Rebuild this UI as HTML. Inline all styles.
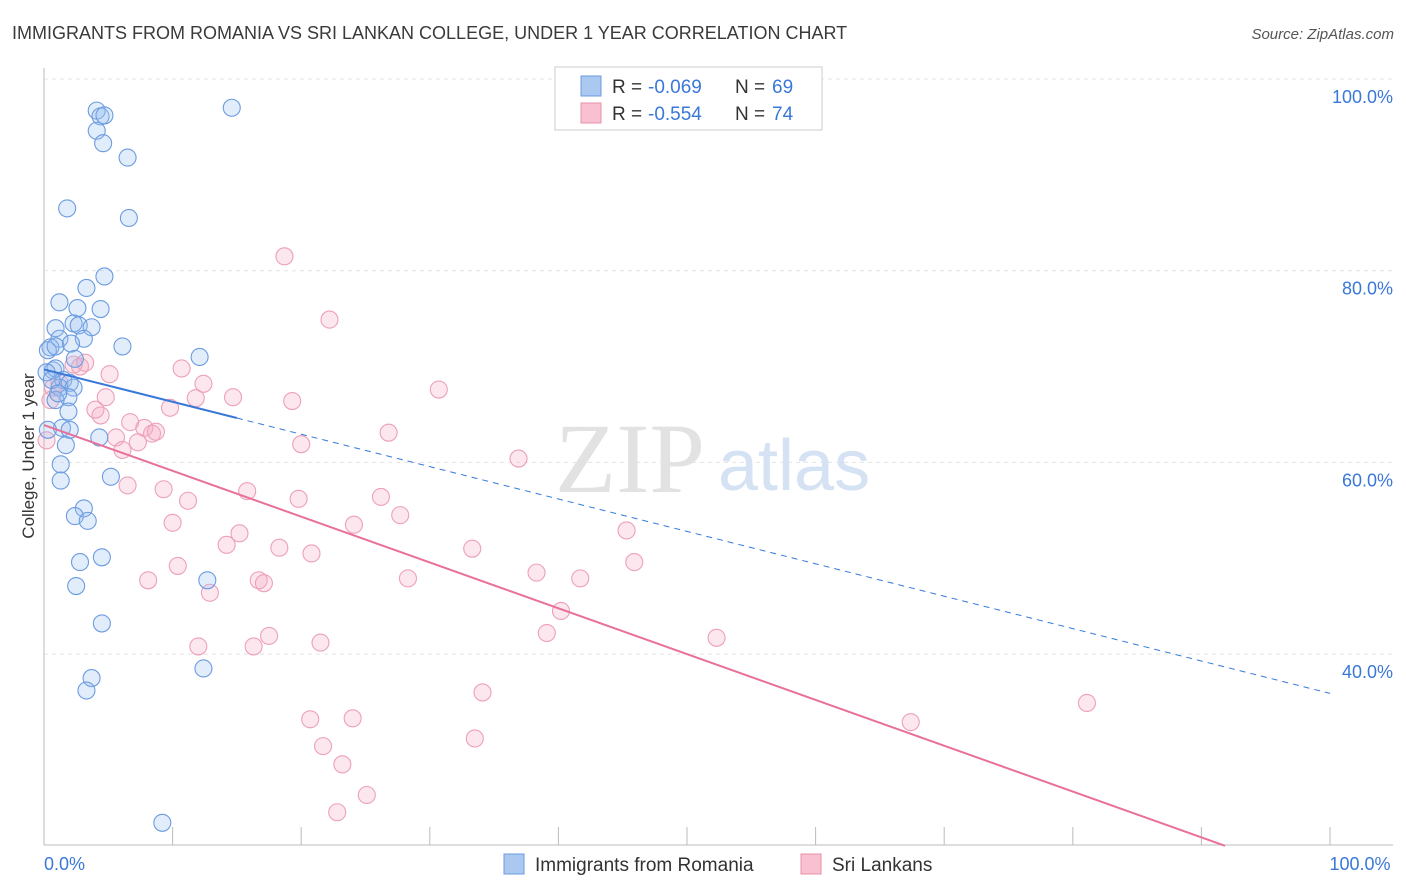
<!DOCTYPE html>
<html><head><meta charset="utf-8"><style>
body{margin:0;background:#fff;font-family:"Liberation Sans",sans-serif;}
svg{display:block}
</style></head><body>
<svg id="chart" width="1406" height="892">
<text x="12" y="39" font-size="18" fill="#3a3a3a">IMMIGRANTS FROM ROMANIA VS SRI LANKAN COLLEGE, UNDER 1 YEAR CORRELATION CHART</text>
<text x="1394" y="39" font-size="15" fill="#555" font-style="italic" text-anchor="end">Source: ZipAtlas.com</text>
<text transform="translate(34,456) rotate(-90)" font-size="17" fill="#333" text-anchor="middle">College, Under 1 year</text>
<g id="grid"></g>
<text x="555" y="492" font-size="100" fill="#e2e2e2" font-family="Liberation Serif,serif">ZIP</text>
<text x="718" y="490" font-size="72" fill="#d4e2f4">atlas</text>
<g id="marks"></g>
<g>
<rect x="555" y="67" width="267" height="63" fill="#fff" stroke="#ccc"/>
<rect x="581" y="76" width="20" height="20" fill="#aac8f0" stroke="#6b9be0"/>
<rect x="581" y="103" width="20" height="20" fill="#f8c0d0" stroke="#e890a8"/>
<text x="612" y="93" font-size="19" fill="#333">R =</text>
<text x="648" y="93" font-size="19" fill="#3a78d8">-0.069</text>
<text x="735" y="93" font-size="19" fill="#333">N =</text>
<text x="772" y="93" font-size="19" fill="#3a78d8">69</text>
<text x="612" y="120" font-size="19" fill="#333">R =</text>
<text x="648" y="120" font-size="19" fill="#3a78d8">-0.554</text>
<text x="735" y="120" font-size="19" fill="#333">N =</text>
<text x="772" y="120" font-size="19" fill="#3a78d8">74</text>
</g>
<g>
<rect x="504" y="854" width="20" height="20" fill="#aac8f0" stroke="#6b9be0"/>
<text x="535" y="871" font-size="19" fill="#333">Immigrants from Romania</text>
<rect x="801" y="854" width="20" height="20" fill="#f8c0d0" stroke="#e890a8"/>
<text x="832" y="871" font-size="19" fill="#333">Sri Lankans</text>
</g>
</svg>
<script>
const blueX=[4.1,4.4,4.7,4.1,4.6,6.5,14.6,1.8,6.6,4.7,3.3,1.2,2.6,4.4,0.9,2.3,2.7,3.7,1.2,3.1,0.5,0.3,0.9,2.1,6.1,12.1,2.4,0.7,0.9,0.2,1.5,2.0,1.2,2.3,1.9,0.9,1.9,1.4,2.0,4.3,1.7,1.3,5.2,1.3,3.1,2.4,3.4,2.8,4.5,2.5,12.7,4.5,3.7,3.3,12.4,9.2,0.6,1.1,0.3];
const blueY=[96.7,96.1,96.2,94.6,93.3,91.8,97.0,86.5,85.5,79.4,78.2,76.7,76.1,76.0,74.0,74.5,74.3,74.1,72.9,72.9,72.0,71.7,72.1,72.4,72.1,71.0,70.8,69.6,69.8,69.4,68.6,68.3,67.8,67.8,66.8,66.5,65.3,63.6,63.4,62.6,61.8,59.8,58.5,58.1,55.2,54.4,53.9,49.6,50.1,47.1,47.7,43.2,37.5,36.2,38.5,22.4,68.6,67.2,63.4];
const pinkX=[18.7,22.2,10.7,12.4,14.7,11.8,30.7,19.3,5.1,2.8,2.3,3.2,0.7,1.2,9.8,6.7,4.0,4.4,4.8,7.8,8.4,8.7,5.6,6.1,7.3,20.0,26.8,36.9,6.5,9.3,11.2,15.8,19.8,26.2,10.0,24.1,27.7,15.2,14.2,18.3,20.8,33.3,45.3,45.9,38.3,41.7,28.3,8.1,10.4,16.7,17.1,12.9,40.2,39.1,52.3,12.0,16.3,17.5,21.5,34.1,20.7,24.0,67.4,81.1,21.7,33.5,23.2,25.1,22.8,0.2,0.5];
const pinkY=[81.5,74.9,69.8,68.2,66.8,66.7,67.6,66.4,69.2,70.0,70.2,70.4,67.8,68.3,65.7,64.2,65.5,64.9,66.8,63.6,63.0,63.2,62.6,61.3,62.1,61.9,63.1,60.4,57.6,57.2,56.0,57.0,56.2,56.4,53.7,53.5,54.5,52.6,51.4,51.1,50.5,51.0,52.9,49.6,48.5,47.9,47.9,47.7,49.2,47.7,47.4,46.4,44.5,42.2,41.7,40.8,40.8,41.9,41.2,36.0,33.2,33.3,32.9,34.9,30.4,31.2,28.5,25.3,23.5,62.3,66.5];
const trendIntercept=[69.7,63.9];
const trendSlope=[-0.338,-0.478];
const yTicks=[100,80,60,40];
const xTickLabels=["0.0%","100.0%"];
const NS="http://www.w3.org/2000/svg";
const X0=44,X1=1330,YB=845;
const sx=v=>X0+v/100*(X1-X0);
const sy=v=>79+(100-v)*9.585;
function mk(t,a,p){const e=document.createElementNS(NS,t);for(const k in a)e.setAttribute(k,a[k]);p.appendChild(e);return e;}
const grid=document.getElementById('grid');
yTicks.forEach(t=>{
 const l=mk('line',{x1:X0,x2:1393,y1:sy(t),y2:sy(t),stroke:'#e4e4e4','stroke-dasharray':'4,4'},grid);
 
 
 const tx=mk('text',{x:1393,y:sy(t)+24,'font-size':18,fill:'#3a78d8','text-anchor':'end'},grid);
 tx.textContent=t.toFixed(1)+'%';
 
 
});
const ax=mk('line',{x1:X0,x2:X0,y1:68,y2:YB,stroke:'#bbb'},grid);


const bx=mk('line',{x1:X0,x2:1393,y1:YB,y2:YB,stroke:'#bbb'},grid);


for(let i=0;i<=10;i++){const t=mk('line',{x1:sx(i*10),x2:sx(i*10),y1:YB,y2:YB-18,stroke:'#bbb'},grid);
 
 }
[[0,'start'],[100,'middle']].forEach((p,i)=>{const t=mk('text',{x:p[0]===0?X0:sx(100)+30,y:870,'font-size':18,fill:'#3a78d8','text-anchor':p[1]},grid);t.textContent=xTickLabels[i];
 
 });
const marks=document.getElementById('marks');
pinkX.forEach((x,i)=>{const c=mk('circle',{cx:sx(x),cy:sy(pinkY[i]),r:8.5,fill:'rgba(244,170,195,0.28)',stroke:'#eda0b9','stroke-width':1.1},marks);
 
 });
blueX.forEach((x,i)=>{const c=mk('circle',{cx:sx(x),cy:sy(blueY[i]),r:8.5,fill:'rgba(150,190,240,0.28)',stroke:'#6b9be0','stroke-width':1.1},marks);
 
 });
const f=(k,x)=>trendIntercept[k]+trendSlope[k]*x;
let l1=mk('line',{x1:sx(0),y1:sy(f(0,0)),x2:sx(15),y2:sy(f(0,15)),stroke:'#3a78d8','stroke-width':2},marks);


let l2=mk('line',{x1:sx(15),y1:sy(f(0,15)),x2:sx(100),y2:sy(f(0,100)),stroke:'#3a78d8','stroke-width':1,'stroke-dasharray':'6,5'},marks);


const xe=(20-trendIntercept[1])/trendSlope[1];
let l3=mk('line',{x1:sx(0),y1:sy(f(1,0)),x2:sx(xe),y2:sy(20),stroke:'#e8709a','stroke-width':2},marks);


</script>
</body></html>
